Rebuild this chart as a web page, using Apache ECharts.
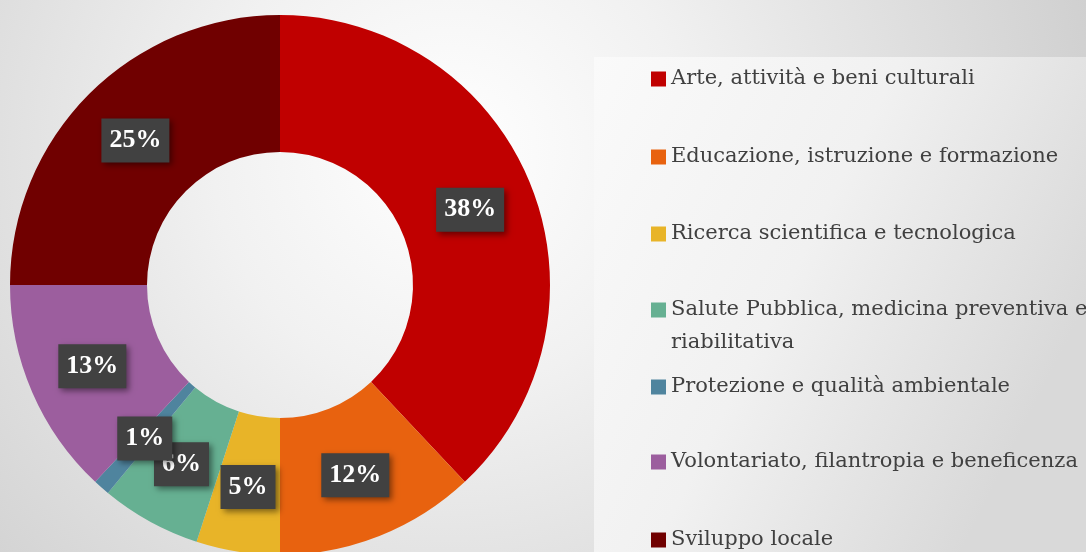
<!DOCTYPE html>
<html>
<head>
<meta charset="utf-8">
<style>
  html, body { margin: 0; padding: 0; }
  #chart { width: 1086px; height: 552px; }
</style>
<script src="https://cdn.jsdelivr.net/npm/echarts@6/dist/echarts.min.js"></script>
</head>
<body>
<div id="chart"></div>
<script>
// dati
var categories = [
  "Arte, attività e beni culturali",
  "Educazione, istruzione e formazione",
  "Ricerca scientifica e tecnologica",
  "Salute Pubblica, medicina preventiva e riabilitativa",
  "Protezione e qualità ambientale",
  "Volontariato, filantropia e beneficenza",
  "Sviluppo locale"
];
var shares = [38, 12, 5, 6, 1, 13, 25];
var colors = ["#C00000", "#E8620F", "#E8B428", "#66B092", "#4F849E", "#9C5E9E", "#700000"];

// layout legenda (centro verticale di ogni voce)
var legendCenters = [79, 157, 234, 310, 387, 462, 540];
var lineH = 33;

var chart = echarts.init(document.getElementById("chart"));

// la voce lunga va a capo; una riga vuota sopra tiene l'icona sulla prima riga
function legendLabel(name) {
  if (name.indexOf(" riabilitativa") >= 0) {
    return " \n" + name.replace(" riabilitativa", "\nriabilitativa");
  }
  return name;
}

var legends = categories.map(function (name, i) {
  var lines = legendLabel(name).split("\n").length;
  var h = lines * lineH;
  return {
    orient: "vertical",
    left: 651,
    top: legendCenters[i] - h / 2,
    padding: 0,
    itemWidth: 15,
    itemHeight: 15,
    itemGap: 0,
    icon: "rect",
    selectedMode: false,
    data: [name],
    formatter: legendLabel,
    textStyle: {
      fontFamily: "DejaVu Serif",
      fontSize: 21,
      color: "#404040",
      lineHeight: lineH
    }
  };
});

var option = {
  backgroundColor: {
    type: "radial", x: 450, y: 150, r: 680, global: true,
    colorStops: [
      { offset: 0, color: "#ffffff" },
      { offset: 0.35, color: "#f1f1f1" },
      { offset: 0.7, color: "#dedede" },
      { offset: 1, color: "#cecece" }
    ]
  },
  graphic: [{
    type: "rect",
    z: 0,
    shape: { x: 594, y: 57, width: 492, height: 495 },
    style: {
      fill: {
        type: "linear", x: 0, y: 0, x2: 1, y2: 0.5,
        colorStops: [
          { offset: 0, color: "#fafafa" },
          { offset: 0.5, color: "#f1f1f1" },
          { offset: 1, color: "#d9d9d9" }
        ]
      }
    }
  }],
  legend: legends,
  series: [{
    type: "pie",
    center: [280, 285],
    radius: [133, 270],
    startAngle: 90,
    clockwise: true,
    avoidLabelOverlap: false,
    minShowLabelAngle: 0,
    labelLayout: { hideOverlap: false },
    silent: true,
    emphasis: { disabled: true },
    label: {
      show: true,
      position: "inside",
      formatter: "{c}%",
      color: "#ffffff",
      fontFamily: "Liberation Serif",
      fontWeight: "bold",
      fontSize: 26,
      lineHeight: 30,
      backgroundColor: "#414141",
      padding: [7, 8],
      shadowColor: "rgba(0,0,0,0.45)",
      shadowBlur: 6,
      shadowOffsetX: 3,
      shadowOffsetY: 3
    },
    labelLine: { show: false },
    data: categories.map(function (n, i) {
      return { name: n, value: shares[i], itemStyle: { color: colors[i] } };
    })
  }]
};

chart.setOption(option);
</script>
</body>
</html>
